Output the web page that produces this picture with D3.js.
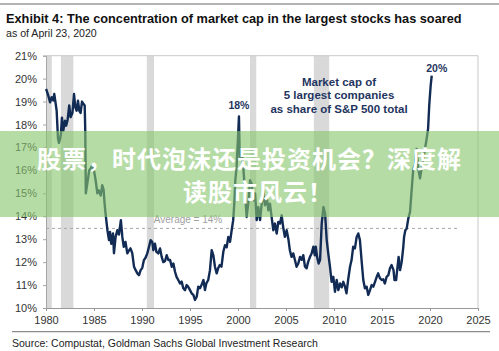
<!DOCTYPE html>
<html>
<head>
<meta charset="utf-8">
<script src="https://cdn.jsdelivr.net/npm/d3@7"></script>
<style>
  html, body { margin: 0; padding: 0; background: #fff; }
  svg { display: block; font-family: "Liberation Sans", Arial, sans-serif; }
</style>
</head>
<body>
<div id="chart"></div>
<script>
// share of S&P 500 market cap held by 5 largest companies (%)
var years = [
  1980.00,1980.07,1980.24,1980.42,1980.59,1980.76,1980.86,1981.01,1981.11,1981.25,1981.35,1981.45,1981.56,1981.66,1981.80,1981.98,
  1982.10,1982.25,1982.42,1982.56,1982.75,1982.92,1983.05,1983.19,1983.33,1983.47,1983.60,1983.75,1983.89,1984.03,1984.09,1984.15,
  1984.30,1984.50,1984.65,1984.80,1985.00,1985.17,1985.35,1985.50,1985.70,1985.86,1986.00,1986.10,1986.20,1986.40,1986.56,1986.67,
  1986.80,1986.98,1987.08,1987.25,1987.43,1987.60,1987.80,1987.95,1988.10,1988.28,1988.47,1988.63,1988.80,1988.98,1989.17,1989.34,
  1989.50,1989.69,1989.86,1990.03,1990.20,1990.38,1990.55,1990.73,1990.90,1991.07,1991.18,1991.35,1991.50,1991.70,1991.88,1992.05,
  1992.22,1992.40,1992.57,1992.75,1992.92,1993.10,1993.27,1993.44,1993.60,1993.78,1993.96,1994.13,1994.30,1994.48,1994.65,1994.80,
  1995.00,1995.17,1995.35,1995.52,1995.70,1995.86,1996.04,1996.20,1996.40,1996.56,1996.70,1996.90,1997.08,1997.26,1997.43,1997.60,
  1997.78,1997.93,1998.10,1998.28,1998.47,1998.65,1998.82,1998.99,1999.17,1999.34,1999.50,1999.62,1999.72,1999.85,1999.95,2000.10,
  2000.18,2000.38,2000.55,2000.72,2000.90,2001.07,2001.25,2001.42,2001.60,2001.78,2001.95,2002.12,2002.30,2002.47,2002.64,2002.80,
  2003.00,2003.16,2003.33,2003.50,2003.68,2003.85,2004.03,2004.20,2004.38,2004.55,2004.70,2004.88,2005.07,2005.25,2005.40,2005.58,
  2005.76,2005.93,2006.10,2006.28,2006.46,2006.63,2006.80,2006.98,2007.15,2007.30,2007.50,2007.67,2007.85,2008.00,2008.10,2008.25,
  2008.40,2008.55,2008.72,2008.90,2009.07,2009.24,2009.40,2009.58,2009.75,2009.93,2010.10,2010.28,2010.45,2010.63,2010.80,2010.97,
  2011.13,2011.30,2011.47,2011.67,2011.83,2012.00,2012.18,2012.36,2012.53,2012.70,2012.90,2013.05,2013.22,2013.40,2013.57,2013.75,
  2013.92,2014.10,2014.28,2014.45,2014.60,2014.78,2014.97,2015.13,2015.30,2015.48,2015.66,2015.83,2016.00,2016.20,2016.30,2016.47,
  2016.60,2016.73,2016.88,2017.05,2017.22,2017.30,2017.43,2017.57,2017.74,2017.92,2018.10,2018.26,2018.43,2018.60,2018.78,2018.96,
  2019.13,2019.30,2019.48,2019.65,2019.80,2019.92,2020.07,2020.18
];
var shares = [
  19.55,19.48,19.26,18.97,19.19,19.05,19.33,18.90,18.60,17.38,17.20,17.35,17.60,18.30,17.74,18.17,
  17.95,18.20,18.83,18.32,18.50,19.33,18.75,18.60,19.04,18.60,18.50,19.00,18.90,18.83,17.74,15.00,
  15.42,16.00,16.09,16.20,16.00,15.57,15.00,15.13,14.90,15.35,15.15,14.57,14.13,13.39,12.96,13.32,
  12.80,13.25,12.39,13.10,13.39,13.20,13.83,13.10,12.67,12.88,12.38,12.50,12.60,12.40,11.80,11.65,
  11.52,11.43,11.65,11.75,12.09,12.20,12.38,12.67,12.96,12.88,12.52,12.80,12.45,12.38,12.60,12.23,
  12.00,12.05,12.30,12.09,12.10,11.80,11.94,11.58,11.36,11.22,11.07,11.15,10.86,10.78,11.00,10.93,
  10.78,10.64,10.57,10.35,10.49,10.93,10.86,11.00,11.22,10.78,11.07,11.22,11.65,12.52,12.30,11.80,
  11.51,11.73,11.87,11.80,12.45,12.74,12.65,13.10,12.88,13.39,13.83,14.60,15.57,16.14,17.00,18.35,
  16.58,16.87,16.14,15.13,13.97,14.55,15.57,15.42,14.70,15.00,13.83,14.40,13.83,14.55,15.13,14.48,
  14.84,14.26,14.55,13.97,13.39,13.68,13.25,13.75,13.68,14.04,13.54,13.10,13.39,13.00,12.52,12.23,
  12.38,12.09,11.80,11.94,12.23,12.10,12.30,11.80,11.73,12.00,12.23,12.38,12.67,12.30,12.67,12.20,
  11.94,12.10,13.68,14.40,14.12,12.96,12.38,11.80,11.14,11.36,10.71,11.22,10.78,11.07,10.90,11.14,
  10.95,10.64,11.22,11.80,12.09,12.67,12.60,13.10,13.25,12.96,11.94,11.22,10.86,10.93,10.57,10.78,
  11.00,10.93,11.15,11.36,11.51,11.30,11.22,11.25,11.07,11.36,11.43,11.73,11.87,11.65,11.22,11.22,
  11.73,12.23,11.65,12.00,12.67,13.10,13.39,13.46,13.90,14.19,15.20,16.07,16.22,16.94,16.07,15.65,
  16.10,16.50,16.94,17.38,17.81,18.83,19.70,20.13
];
// recession periods (shaded)
var recStart = [1980.0, 1981.55, 1990.5, 2001.25, 2007.9];
var recEnd   = [1980.6, 1982.85, 1991.25, 2001.9, 2009.5];

var average = 13.47;
var xTicks = [1980,1985,1990,1995,2000,2005,2010,2015,2020,2025];
var yTicks = [10,11,12,13,14,15,16,17,18,19,20,21];
var noteLines = ['Market cap of', '5 largest companies', 'as share of S&P 500 total'];
var bannerLines = ['股票，时代泡沫还是投资机会？深度解', '读股市风云！'];

var width = 499, height = 351;
var margin = {top: 55.7, right: 21, bottom: 43, left: 46};

var svg = d3.select('#chart').append('svg')
  .attr('width', width)
  .attr('height', height);

var x = d3.scaleLinear().domain([1980, 2025]).range([margin.left, width - margin.right]);
var y = d3.scaleLinear().domain([10, 21]).range([height - margin.bottom, margin.top]);

// top rule + title
svg.append('line').attr('x1', 0).attr('x2', width).attr('y1', 4).attr('y2', 4)
  .attr('stroke', '#9a9a9a').attr('stroke-width', 1.5);
svg.append('text').attr('x', 6).attr('y', 22.5)
  .attr('font-size', 12.75).attr('font-weight', 'bold').attr('fill', '#111')
  .text('Exhibit 4: The concentration of market cap in the largest stocks has soared');
svg.append('text').attr('x', 6).attr('y', 37.3)
  .attr('font-size', 10.6).attr('fill', '#222')
  .text('as of April 23, 2020');

// recession bars
svg.append('g').selectAll('rect')
  .data(recStart)
  .enter().append('rect')
  .attr('x', function (d) { return x(d); })
  .attr('width', function (d, i) { return x(recEnd[i]) - x(d); })
  .attr('y', y(21))
  .attr('height', y(10) - y(21))
  .attr('fill', '#d9d9d9');

// frame
svg.append('path')
  .attr('d', 'M' + x(1980) + ',' + y(21) + 'H' + x(2025) + 'V' + y(10))
  .attr('fill', 'none').attr('stroke', '#c9c9c9').attr('stroke-width', 1);

// y axis
var yAxis = svg.append('g')
  .attr('transform', 'translate(' + x(1980) + ',0)')
  .call(d3.axisLeft(y).tickValues(yTicks).tickSize(3).tickPadding(6)
    .tickFormat(function (d) { return d + '%'; }));
yAxis.select('.domain').attr('stroke', '#a6a6a6');
yAxis.selectAll('.tick line').attr('stroke', '#a6a6a6');
yAxis.selectAll('text').attr('font-size', 11).attr('fill', '#333')
  .attr('font-family', '"Liberation Sans", Arial, sans-serif');

// x axis
var xAxis = svg.append('g')
  .attr('transform', 'translate(0,' + y(10) + ')')
  .call(d3.axisBottom(x).tickValues(xTicks).tickSize(3).tickPadding(5)
    .tickFormat(d3.format('d')));
xAxis.select('.domain').attr('stroke', '#999');
xAxis.selectAll('.tick line').attr('stroke', '#999');
xAxis.selectAll('text').attr('font-size', 11).attr('fill', '#333')
  .attr('font-family', '"Liberation Sans", Arial, sans-serif');

// average line
svg.append('line')
  .attr('x1', x(1980)).attr('x2', x(2022.9))
  .attr('y1', y(average)).attr('y2', y(average))
  .attr('stroke', '#a8a8a8').attr('stroke-dasharray', '3,3').attr('stroke-width', 1);
svg.append('text').attr('x', 188).attr('y', y(average) - 5.5)
  .attr('text-anchor', 'middle').attr('font-size', 10).attr('fill', '#a0a0a0')
  .text('Average = 14%');

// series line
var line = d3.line()
  .x(function (d, i) { return x(years[i]); })
  .y(function (d) { return y(d); });
svg.append('path')
  .datum(shares)
  .attr('d', line)
  .attr('fill', 'none')
  .attr('stroke', '#112b55')
  .attr('stroke-width', 2.4)
  .attr('stroke-linejoin', 'round');

// peak labels
svg.append('text').attr('x', x(2000.1)).attr('y', y(18.35) - 7)
  .attr('text-anchor', 'middle').attr('font-size', 10.5).attr('font-weight', 'bold')
  .attr('fill', '#1f3560').text('18%');
svg.append('text').attr('x', x(2020.7)).attr('y', y(20.13) - 3.5)
  .attr('text-anchor', 'middle').attr('font-size', 10.5).attr('font-weight', 'bold')
  .attr('fill', '#1f3560').text('20%');

// series note
svg.append('g').selectAll('text')
  .data(noteLines)
  .enter().append('text')
  .attr('x', 339)
  .attr('y', function (d, i) { return 85.7 + i * 13.5; })
  .attr('text-anchor', 'middle')
  .attr('font-size', 11.5)
  .attr('font-weight', 'bold')
  .attr('fill', '#1f3560')
  .text(function (d) { return d; });

// bottom rule + source
svg.append('line').attr('x1', 12).attr('x2', 490).attr('y1', 331.7).attr('y2', 331.7)
  .attr('stroke', '#8c8c8c').attr('stroke-width', 1.2);
svg.append('text').attr('x', 12).attr('y', 346.5)
  .attr('font-size', 10.5).attr('fill', '#222')
  .text('Source: Compustat, Goldman Sachs Global Investment Research');

// green banner overlay
svg.append('rect')
  .attr('x', 0).attr('y', 131).attr('width', width).attr('height', 86)
  .attr('fill', 'rgb(135,197,109)').attr('fill-opacity', 0.61);
svg.append('g').selectAll('text')
  .data(bannerLines)
  .enter().append('text')
  .attr('x', function (d, i) { return i === 0 ? 37 : 183; })
  .attr('y', function (d, i) { return 168 + i * 33; })
  .attr('font-family', '"Noto Sans CJK SC", sans-serif')
  .attr('font-size', 24)
  .attr('font-weight', 'bold')
  .attr('letter-spacing', 1)
  .attr('fill', '#fff')
  .text(function (d) { return d; });
</script>
</body>
</html>
